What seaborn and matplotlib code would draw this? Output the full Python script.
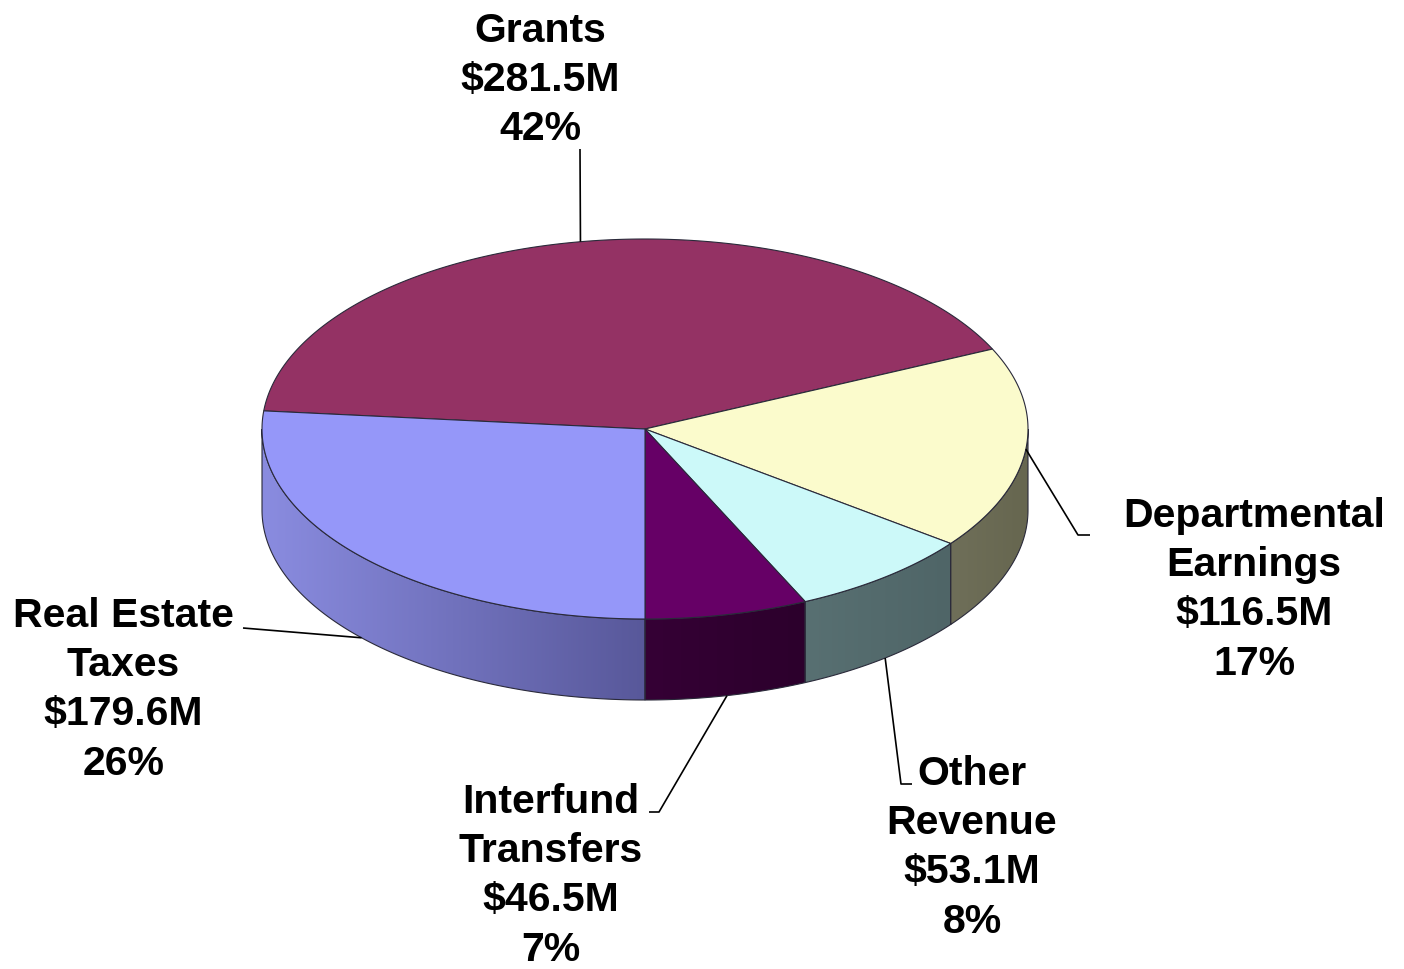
import numpy as np
import matplotlib
matplotlib.use("Agg")
import matplotlib.pyplot as plt
from matplotlib.patches import Polygon
from matplotlib.colors import to_rgb
import seaborn as sns

# ---- data ----
categories = ["Grants", "Departmental\nEarnings", "Other\nRevenue",
              "Interfund\nTransfers", "Real Estate\nTaxes"]
amounts_m = [281.5, 116.5, 53.1, 46.5, 179.6]
percent_labels = [42, 17, 8, 7, 26]

# ---- styles ----
top_colors = ["#943264", "#fbfbcc", "#ccf9f9", "#660066", "#9597f9"]
side_colors = [("#7a2852", "#7a2852"), ("#6f6f59", "#66664f"),
               ("#587072", "#4f6567"), ("#350035", "#2c002c"),
               ("#8a8ce0", "#58589a")]
edge_col = "#2a2a3a"

sns.set_theme(style="white")
plt.rcParams["font.family"] = ["Liberation Sans", "DejaVu Sans"]

fig = plt.figure(figsize=(14.04, 9.70), dpi=100)
ax = fig.add_axes([0, 0, 1, 1])
ax.set_xlim(0, 1404)
ax.set_ylim(970, 0)
ax.axis("off")

cx, cy, rx, ry, depth = 645, 430, 383, 190, 81

values = np.array(amounts_m, dtype=float)
sweep = 360.0 * values / values.sum()
start = 270.0 - sweep[-1]          # clockwise; last slice ends at the bottom
hi_angles = start - np.concatenate([[0], np.cumsum(sweep)[:-1]])
lo_angles = hi_angles - sweep


def pt(theta_deg, dy=0.0):
    t = np.radians(theta_deg)
    return cx + rx * np.cos(t), cy - ry * np.sin(t) + dy


# ---- side walls (front half only) ----
for i in range(len(values)):
    lo, hi = lo_angles[i], hi_angles[i]
    for k in (-360, 0, 360):
        l = max(lo, 180 + k)
        h = min(hi, 360 + k)
        if l >= h:
            continue
        th = np.linspace(l, h, 200)
        tx, ty = pt(th)
        bx, by = pt(th, depth)
        xs = np.concatenate([tx, bx[::-1]])
        ys = np.concatenate([ty, by[::-1]])
        poly = Polygon(np.column_stack([xs, ys]), closed=True,
                       facecolor="none", edgecolor="none")
        ax.add_patch(poly)
        c0 = np.array(to_rgb(side_colors[i][0]))
        c1 = np.array(to_rgb(side_colors[i][1]))
        n = 256
        f = np.linspace(0, 1, n)[:, None]
        grad = (c0 * (1 - f) + c1 * f)[None, :, :]
        x0, x1 = xs.min(), xs.max()
        y0, y1 = ys.min(), ys.max()
        im = ax.imshow(grad, extent=(x0, x1, y1, y0), aspect="auto",
                       interpolation="bilinear", zorder=1)
        im.set_clip_path(poly)
        ax.add_patch(Polygon(np.column_stack([xs, ys]), closed=True,
                             facecolor="none", edgecolor=edge_col,
                             linewidth=0.8, zorder=2))

# ---- top faces ----
for i in range(len(values)):
    th = np.linspace(lo_angles[i], hi_angles[i], 300)
    tx, ty = pt(th)
    xs = np.concatenate([[cx], tx])
    ys = np.concatenate([[cy], ty])
    ax.add_patch(Polygon(np.column_stack([xs, ys]), closed=True,
                         facecolor=top_colors[i], edgecolor=edge_col,
                         linewidth=0.8, zorder=3))

ax.set_xlim(0, 1404)
ax.set_ylim(970, 0)

# ---- labels ----
label_x = [540, 1254, 972, 551, 123.5]
label_baseline = [42, 527, 785, 813, 627]
line_step = 49.2
anchor_on_side = [0, 0, 1, 1, 1]
leader_tail = [
    [(580, 150)],
    [(1078, 536), (1090, 536)],
    [(901, 785), (912, 785)],
    [(659, 813), (649, 813)],
    [(243, 629)],
]

for i in range(len(values)):
    lines = categories[i].split("\n") + [f"${amounts_m[i]:.1f}M",
                                          f"{percent_labels[i]}%"]
    for j, s in enumerate(lines):
        ax.text(label_x[i], label_baseline[i] + j * line_step, s,
                ha="center", va="baseline", fontsize=29.5,
                fontweight="bold", color="black", zorder=5)
    mid = (lo_angles[i] + hi_angles[i]) / 2
    ax0, ay0 = pt(mid, depth * anchor_on_side[i])
    px = [ax0] + [p[0] for p in leader_tail[i]]
    py = [ay0] + [p[1] for p in leader_tail[i]]
    ax.plot(px, py, color="black", linewidth=1.2, zorder=4,
            solid_capstyle="butt")

fig.savefig("out.png", dpi=100)
